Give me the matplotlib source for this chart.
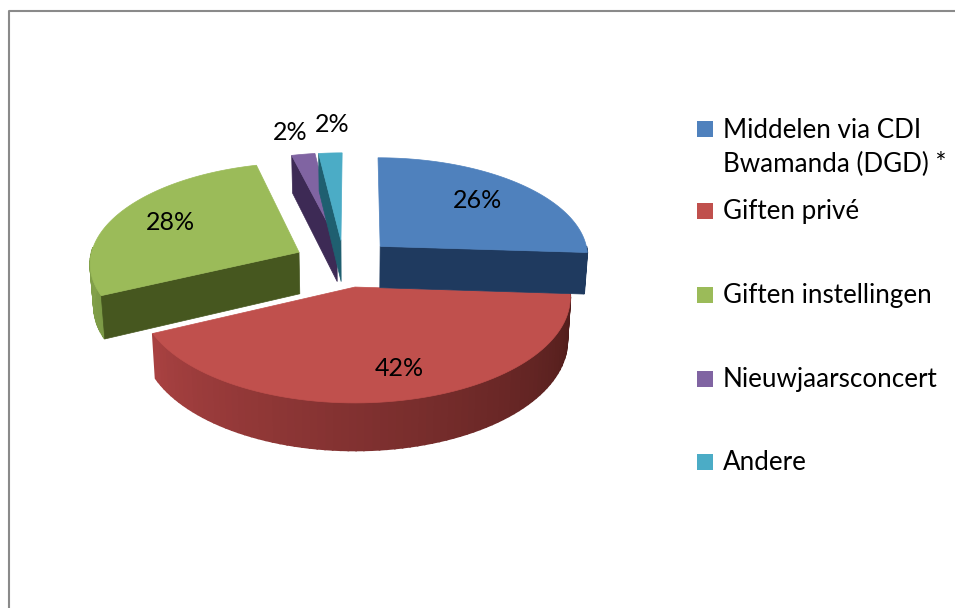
import numpy as np
import matplotlib
matplotlib.use('Agg')
import matplotlib.pyplot as plt
from matplotlib.patches import Polygon, Rectangle
from matplotlib.colors import to_rgb

# --- Data ---
categorieen = ['Middelen via CDI\nBwamanda (DGD) *', 'Giften privé', 'Giften instellingen',
               'Nieuwjaarsconcert', 'Andere']
waarden = [26, 42, 28, 2, 2]

# --- Style ---
kleuren = ['#4f81bd', '#c0504d', '#9bbb59', '#8064a2', '#4bacc6']
kleuren_wand = ['#1f3a5f', '#7a2e2b', '#46571f', '#3d2a55', '#1f5f70']
# rim colour at the start and end of the slice's arc (clockwise)
rand_begin = ['#1f3a5f', '#4e1c1a', '#7c9a46', '#3d2a55', '#1f5f70']
rand_eind = ['#1f3a5f', '#a84141', '#94b455', '#3d2a55', '#1f5f70']
# slice offset from the pie centre, in pie radii (x, depth)
uitsprong = [(0.122, -0.169), (0.0, 0.235), (-0.27, -0.109), (-0.088, -0.23), (-0.0685, -0.23)]
label_pos = [(477, 201), (399, 368), (170, 223), (290, 132), (332, 124)]
teken_volgorde = [2, 1, 0, 3, 4]
legenda_y = [129, 211, 295, 379, 462]

# --- Projection of the tilted pie (pixels) ---
CX, CY = 355, 263
RX, RY = 209.5, 100
PERSP = 0.095
KRIMP = 0.014  # the bottom of the pie is a little narrower than the top
HOOGTE = 42
LIJN_GRIJS = '#8a8a8a'


def projecteer(u, v, z=0.0):
    w = 1 - PERSP * v
    return CX + RX * u / w * (1 - KRIMP * z), CY + RY * v / w + z * HOOGTE / w


def punt(u0, v0, hoek, r=1.0, z=0.0):
    # hoek in degrees, clockwise from twelve o'clock
    a = np.radians(hoek)
    return projecteer(u0 + r * np.sin(a), v0 - r * np.cos(a), z)


def vlak(ax, punten, kleur, lw=0.5):
    ax.add_patch(Polygon(punten, closed=True, facecolor=kleur, edgecolor=kleur, lw=lw))


fig = plt.figure(figsize=(9.55, 6.08), dpi=100)
ax = fig.add_axes([0, 0, 1, 1])
ax.set_xlim(0, 955)
ax.set_ylim(608, 0)
ax.axis('off')

# frame, open at the right and bottom like the cropped original
ax.plot([9, 9, 955], [608, 11.3, 11.3], color=LIJN_GRIJS, lw=1.5, solid_capstyle='butt')

eindes = np.cumsum(waarden) / sum(waarden) * 360
beginnen = np.concatenate([[0], eindes[:-1]])

for i in teken_volgorde:
    u0, v0 = uitsprong[i]
    h0, h1 = beginnen[i], eindes[i]
    hoeken = np.linspace(h0, h1, 80)

    # outer rim, only the part that faces the viewer
    c0, c1 = np.array(to_rgb(rand_begin[i])), np.array(to_rgb(rand_eind[i]))
    for j in range(len(hoeken) - 1):
        if not 90 <= hoeken[j] <= 272:
            continue
        t = j / (len(hoeken) - 2)
        vlak(ax, [punt(u0, v0, hoeken[j]), punt(u0, v0, hoeken[j + 1]),
                  punt(u0, v0, hoeken[j + 1], z=1), punt(u0, v0, hoeken[j], z=1)],
             tuple(c0 + (c1 - c0) * t), lw=1.2)

    # cut faces, only those turned towards the viewer
    zichtbaar = []
    if np.sin(np.radians(h1)) > 0:
        zichtbaar.append(h1)
    if np.sin(np.radians(h0)) < 0:
        zichtbaar.append(h0)
    for h in zichtbaar:
        vlak(ax, [projecteer(u0, v0), punt(u0, v0, h), punt(u0, v0, h, z=1), projecteer(u0, v0, 1)],
             kleuren_wand[i])

    # top face
    boog = [punt(u0, v0, h) for h in hoeken]
    vlak(ax, [projecteer(u0, v0)] + boog, kleuren[i])

for waarde, (x, y) in zip(waarden, label_pos):
    ax.text(x, y, f'{waarde}%', ha='center', va='center', fontsize=18, family='Lato', color='black')

# legend
for naam, kleur, y in zip(categorieen, kleuren, legenda_y):
    ax.add_patch(Rectangle((697, y - 8), 16, 16, facecolor=kleur, edgecolor='none'))
    regels = naam.split('\n')
    for k, regel in enumerate(regels):
        ax.text(723, y + 1 + k * 34, regel, ha='left', va='center', fontsize=18.7, family='Lato', color='black')

fig.savefig('out.png', dpi=100)
